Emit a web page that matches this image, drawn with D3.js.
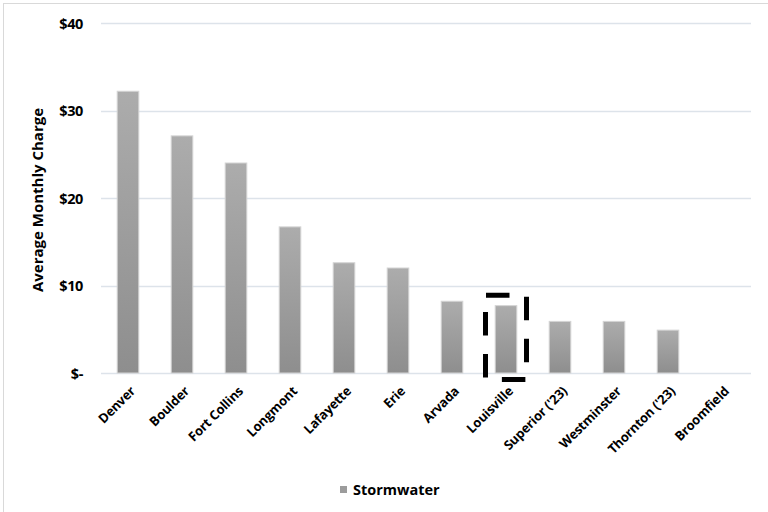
<!DOCTYPE html>
<html>
<head>
<meta charset="utf-8">
<script src="https://cdn.jsdelivr.net/npm/d3@7"></script>
<style>
  html, body { margin: 0; padding: 0; background: #fff; }
  svg { display: block; }
  text { font-family: "Open Sans", Lato, sans-serif; font-weight: 700; fill: #000; }
</style>
</head>
<body>
<svg id="chart" width="768" height="512"></svg>
<script>
// Average monthly stormwater charge by city
const cities = ["Denver", "Boulder", "Fort Collins", "Longmont", "Lafayette", "Erie",
  "Arvada", "Louisville", "Superior ('23)", "Westminster", "Thornton ('23)", "Broomfield"];
const stormwater = [32.2, 27.1, 24.0, 16.7, 12.6, 12.0, 8.2, 7.7, 5.9, 5.9, 4.9, 0];
const yTicks = [0, 10, 20, 30, 40];
const seriesName = "Stormwater";
const highlightCity = "Louisville";

const svg = d3.select("#chart");
const margin = { left: 101, right: 19, top: 23, bottom: 139 };
const W = 768, H = 512;

// chart frame edges
svg.append("line").attr("x1", 3).attr("x2", 768).attr("y1", 3.5).attr("y2", 3.5)
  .attr("stroke", "#d9d9d9").attr("stroke-width", 1);
svg.append("line").attr("x1", 3.5).attr("x2", 3.5).attr("y1", 3).attr("y2", 512)
  .attr("stroke", "#d9d9d9").attr("stroke-width", 1);

const x = d3.scaleBand().domain(cities)
  .range([margin.left, W - margin.right]).paddingInner(0.6).paddingOuter(0.3);
const y = d3.scaleLinear().domain([0, 40]).range([H - margin.bottom, margin.top]);

const defs = svg.append("defs");
const grad = defs.append("linearGradient").attr("id", "barGrad")
  .attr("x1", 0).attr("y1", 0).attr("x2", 0).attr("y2", 1);
grad.append("stop").attr("offset", "0%").attr("stop-color", "#acacac");
grad.append("stop").attr("offset", "100%").attr("stop-color", "#8e8e8e");

// gridlines
svg.append("g").selectAll("line").data(yTicks).join("line")
  .attr("x1", margin.left).attr("x2", W - margin.right + 2)
  .attr("y1", d => Math.round(y(d)) + 0.5).attr("y2", d => Math.round(y(d)) + 0.5)
  .attr("stroke", "#dde3ea").attr("stroke-width", 1.5);

// y axis labels
const yAxis = d3.axisLeft(y).tickValues(yTicks).tickSize(0).tickPadding(0)
  .tickFormat(d => d === 0 ? "$-" : "$" + d);
const gy = svg.append("g").attr("transform", `translate(${margin.left - 18},0)`).call(yAxis);
gy.select(".domain").remove();
gy.selectAll("text").style("font-size", "14.5px").style("letter-spacing", "-0.4px")
  .attr("dy", "0.35em");

// y axis title
svg.append("text")
  .attr("transform", `translate(43,${(y(0) + y(40)) / 2 + 2}) rotate(-90)`)
  .attr("text-anchor", "middle").style("font-size", "15px")
  .text("Average Monthly Charge");

// bars
svg.append("g").selectAll("rect").data(cities).join("rect")
  .attr("x", d => x(d))
  .attr("width", x.bandwidth())
  .attr("y", (d, i) => y(stormwater[i]))
  .attr("height", (d, i) => y(0) - y(stormwater[i]))
  .attr("fill", "url(#barGrad)")
  .attr("stroke", "#d4d4d4").attr("stroke-width", 1);

// x axis labels
const xAxis = d3.axisBottom(x).tickSize(0).tickPadding(0);
const gx = svg.append("g").attr("transform", `translate(0,${y(0)})`).call(xAxis);
gx.select(".domain").remove();
gx.selectAll("text")
  .style("font-size", "13px")
  .style("letter-spacing", "-0.2px")
  .attr("text-anchor", "end")
  .attr("dy", 0)
  .attr("transform", "translate(8,19) rotate(-45)");

// dashed highlight around one bar
const hx = x(highlightCity) + x.bandwidth() / 2;
const hi = cities.indexOf(highlightCity);
svg.append("rect")
  .attr("x", hx - 20.5).attr("width", 41)
  .attr("y", y(stormwater[hi]) - 10.5).attr("height", y(0) - y(stormwater[hi]) + 17)
  .attr("fill", "none").attr("stroke", "#000").attr("stroke-width", 5)
  .attr("stroke-dasharray", "23.5,18.5").attr("stroke-dashoffset", -0.5);

// legend
const legend = svg.append("g").attr("transform", "translate(340,486)");
legend.append("rect").attr("width", 7).attr("height", 7).attr("fill", "#9c9c9c");
legend.append("text").attr("x", 13).attr("y", 4).attr("dy", "0.35em")
  .style("font-size", "14.5px").text(seriesName);
</script>
</body>
</html>
